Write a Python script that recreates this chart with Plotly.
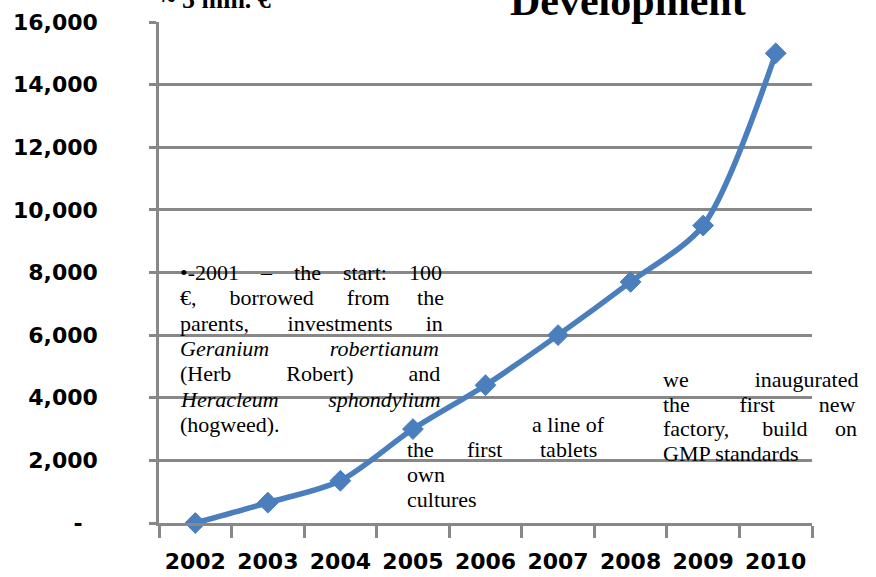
import plotly.graph_objects as go

# ---------------- data ----------------
years = ["2002", "2003", "2004", "2005", "2006", "2007", "2008", "2009", "2010"]
revenue = [0, 650, 1350, 3000, 4400, 6000, 7700, 9500, 15000]

y_tickvals = [0, 2000, 4000, 6000, 8000, 10000, 12000, 14000, 16000]
y_ticktext = ["-", "2,000", "4,000", "6,000", "8,000", "10,000", "12,000", "14,000", "16,000"]

title_text = "Development"
corner_text = "~ 5 mln. €"

note_start = ["•-2001 – the start: 100", "€, borrowed from the", "parents, investments in",
              "Geranium robertianum", "(Herb Robert) and", "Heracleum sphondylium", "(hogweed)."]
note_start_italic = [False, False, False, True, False, True, False]
note_start_justify = [True, True, True, True, True, True, False]

note_cultures = ["the first", "own", "cultures"]
note_cultures_justify = [True, False, False]

note_tablets = ["a line of", "tablets"]

note_factory = ["we inaugurated", "the first new", "factory, build on", "GMP standards"]
note_factory_justify = [True, True, True, False]

# ---------------- geometry / style ----------------
W, H = 876, 577
L, R, T, B = 159, 812, 22, 523
GRID = "#888888"
BLUE = "#4A7EBD"
FS = 22
SERIF = "Liberation Serif"


def px(x):
    return (x - L) / (R - L)


def py(y):
    return (B - y) / (B - T)


TNR = {" ": 250, "!": 333, "(": 333, ")": 333, ",": 250, "-": 333, ".": 250, ":": 278,
       "€": 500, "•": 350, "–": 500,
       "A": 722, "B": 667, "C": 667, "D": 722, "E": 611, "F": 556, "G": 722, "H": 722, "I": 333,
       "J": 389, "K": 722, "L": 611, "M": 889, "N": 722, "O": 722, "P": 556, "Q": 722, "R": 667,
       "S": 556, "T": 611, "U": 722, "V": 722, "W": 944, "X": 722, "Y": 722, "Z": 611,
       "a": 444, "b": 500, "c": 444, "d": 500, "e": 444, "f": 333, "g": 500, "h": 500, "i": 278,
       "j": 278, "k": 500, "l": 278, "m": 778, "n": 500, "o": 500, "p": 500, "q": 500, "r": 333,
       "s": 389, "t": 278, "u": 500, "v": 500, "w": 722, "x": 500, "y": 500, "z": 444}
for d in "0123456789":
    TNR[d] = 500
TNRI = dict(TNR)
TNRI.update({"a": 500, "b": 500, "c": 444, "d": 500, "e": 444, "f": 278, "g": 500, "h": 500,
             "i": 278, "j": 278, "k": 444, "l": 278, "m": 722, "n": 500, "o": 500, "p": 500,
             "q": 500, "r": 389, "s": 389, "t": 278, "u": 500, "v": 444, "w": 667, "x": 444,
             "y": 444, "z": 389, "G": 722, "H": 722})


def text_width(s, italic, size):
    tbl = TNRI if italic else TNR
    return sum(tbl.get(c, 500) for c in s) / 1000 * size


def justify(line, italic, size, target):
    words = line.split()
    if len(words) < 2:
        return line
    nat = sum(text_width(w, italic, size) for w in words)
    gaps = len(words) - 1
    sp = 0.25 * size
    units = max(gaps, round((target - nat) / sp))
    base, extra = divmod(units, gaps)
    out = words[0]
    for i, w in enumerate(words[1:]):
        k = base + (1 if i < extra else 0)
        out += "\u00a0" * k + w
    return out


def center_from_baseline(baseline, size):
    return baseline - 0.3375 * size


annotations = []


def add_block(lines, left, right, first_base, step, italic=None, just=None, align="left"):
    n = len(lines)
    italic = italic or [False] * n
    just = just or [False] * n
    for i, line in enumerate(lines):
        txt = justify(line, italic[i], FS, right - left) if just[i] else line
        if italic[i]:
            txt = "<i>" + txt + "</i>"
        if align == "center":
            xpos, xa = (left + right) / 2, "center"
        else:
            xpos, xa = left, "left"
        annotations.append(dict(
            x=px(xpos), y=py(center_from_baseline(first_base + i * step, FS)),
            xref="paper", yref="paper", text=txt, showarrow=False,
            xanchor=xa, yanchor="middle", borderpad=0, borderwidth=0,
            font=dict(family=SERIF, size=FS, color="black")))


add_block(note_start, 180, 442, 280, 25.3, note_start_italic, note_start_justify)
add_block(note_cultures, 406.5, 502, 457, 25.0, None, note_cultures_justify)
add_block(note_tablets, 525, 612, 432, 25.0, align="center")
add_block(note_factory, 663, 858, 387, 24.5, None, note_factory_justify)

annotations.append(dict(
    x=px(628), y=py(center_from_baseline(15, 42)), xref="paper", yref="paper",
    text="<b>" + title_text + "</b>", showarrow=False, xanchor="center", yanchor="middle",
    borderpad=0, borderwidth=0, font=dict(family=SERIF, size=42, color="black")))
annotations.append(dict(
    x=px(162), y=py(center_from_baseline(8, 26)), xref="paper", yref="paper",
    text="<b>" + corner_text + "</b>", showarrow=False, xanchor="left", yanchor="middle",
    borderpad=0, borderwidth=0, font=dict(family=SERIF, size=26, color="black")))

ticktext = [t + "\u00a0\u00a0" if t == "-" else t for t in y_ticktext]

fig = go.Figure()
fig.add_trace(go.Scatter(
    x=years, y=revenue, mode="lines+markers",
    line=dict(color=BLUE, width=5.5, shape="spline", smoothing=0.8),
    marker=dict(symbol="diamond", size=16, color=BLUE, line=dict(color=BLUE, width=1)),
    cliponaxis=False, showlegend=False, hoverinfo="skip"))

fig.update_layout(
    width=W, height=H,
    margin=dict(l=L, r=W - R, t=T, b=H - B, pad=0),
    paper_bgcolor="white", plot_bgcolor="white",
    annotations=annotations,
    xaxis=dict(type="category", range=[-0.5, 8.5], tickson="boundaries",
               ticks="outside", ticklen=12, tickwidth=2.5, tickcolor=GRID,
               showline=True, linecolor=GRID, linewidth=2.5, showgrid=False,
               tickangle=0, automargin=False,
               ticklabelstandoff=17,
               tickfont=dict(family="DejaVu Sans", size=22, weight="bold", color="black")),
    yaxis=dict(range=[0, 16000], tickvals=y_tickvals, ticktext=ticktext,
               showgrid=True, gridcolor=GRID, gridwidth=2.5, zeroline=False,
               ticks="outside", ticklen=7, tickwidth=2.5, tickcolor=GRID,
               showline=True, linecolor=GRID, linewidth=2.5, automargin=False,
               ticklabelstandoff=47,
               tickfont=dict(family="DejaVu Sans", size=22, weight="bold", color="black")),
)

fig.write_html("out.html", config={"displayModeBar": False},
               post_script="document.body.style.margin='0';")
